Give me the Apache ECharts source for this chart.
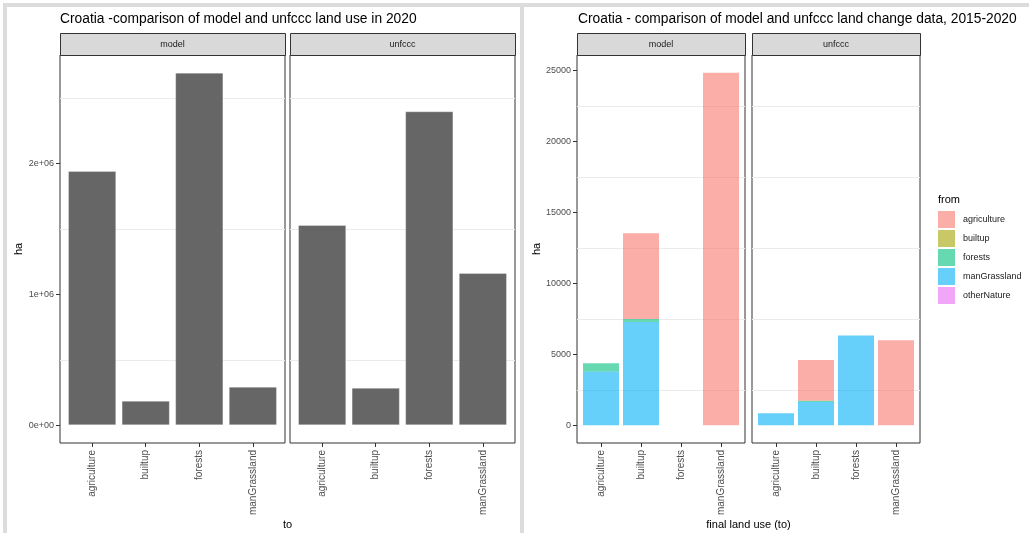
<!DOCTYPE html>
<html>
<head>
<meta charset="utf-8">
<script src="https://cdn.jsdelivr.net/npm/echarts@6/dist/echarts.min.js"></script>
<style>
  html, body { margin: 0; padding: 0; background: #ffffff; }
  #chart { width: 1029px; height: 533px; }
</style>
</head>
<body>
<div id="chart"></div>
<script>
// ---- data ---------------------------------------------------------------
const landUse = ['agriculture', 'builtup', 'forests', 'manGrassland'];
const panelNames = ['model', 'unfccc'];

// land use in 2020, ha
const useModel = [1942000, 188000, 2692000, 295000];
const useUnfccc = [1529000, 287000, 2397000, 1163000];
const useTicks = [0, 1000000, 2000000];
const useTickLabels = ['0e+00', '1e+06', '2e+06'];
const useMinor = [500000, 1500000, 2500000];

// land change 2015-2020, ha, split by the previous land use ("from")
const fromClasses = ['agriculture', 'builtup', 'forests', 'manGrassland', 'otherNature'];
const fromColors = ['#F8766D', '#A3A500', '#00BF7D', '#00B0F6', '#E76BF3'];

const chgModelAgriculture  = [0, 6035, 0, 24850];
const chgModelBuiltup      = [0, 0, 0, 0];
const chgModelForests      = [590, 210, 0, 0];
const chgModelManGrassland = [3790, 7290, 0, 0];
const chgModelOtherNature  = [0, 0, 0, 0];

const chgUnfcccAgriculture  = [0, 2880, 0, 6000];
const chgUnfcccBuiltup      = [0, 0, 0, 0];
const chgUnfcccForests      = [0, 80, 0, 0];
const chgUnfcccManGrassland = [860, 1650, 6325, 0];
const chgUnfcccOtherNature  = [0, 0, 0, 0];

const changeTicks = [0, 5000, 10000, 15000, 20000, 25000];
const changeMinor = [2500, 7500, 12500, 17500, 22500];

// ---- layout -------------------------------------------------------------
const FONT = "'Liberation Sans', Arial, sans-serif";
const PANEL_TOP = 55, PANEL_BOTTOM = 443, STRIP_TOP = 33;
const PANEL_H = PANEL_BOTTOM - PANEL_TOP;
// discrete x scale spans 0.4 .. 4.6 (0.6 units of padding around the categories)
const leftPanels  = [{ x: 60, w: 225 }, { x: 290, w: 225 }];
const rightPanels = [{ x: 577, w: 168 }, { x: 752, w: 168 }];

function paddedRange(maxVal) {
  return { min: -0.05 * maxVal, max: 1.05 * maxVal };
}
const useRange = paddedRange(Math.max(...useModel, ...useUnfccc));
const modelStacks = landUse.map((_, i) => chgModelAgriculture[i] + chgModelBuiltup[i] + chgModelForests[i] + chgModelManGrassland[i] + chgModelOtherNature[i]);
const unfcccStacks = landUse.map((_, i) => chgUnfcccAgriculture[i] + chgUnfcccBuiltup[i] + chgUnfcccForests[i] + chgUnfcccManGrassland[i] + chgUnfcccOtherNature[i]);
const changeRange = paddedRange(Math.max(...modelStacks, ...unfcccStacks));

const grid = [], xAxis = [], yAxis = [], series = [], graphic = [];

function addPanel(p, range, ticks, tickLabels, showY, yName, yNameGap, minor) {
  const unit = p.w / 4.2;
  const outer = grid.length;
  grid.push({ left: p.x, top: PANEL_TOP, width: p.w, height: PANEL_H,
    show: true, borderColor: '#333333', borderWidth: 1, backgroundColor: 'transparent', containLabel: false });
  xAxis.push({ gridIndex: outer, type: 'value', min: 0, max: 1, show: false });
  yAxis.push({
    gridIndex: outer, type: 'value', min: range.min, max: range.max, show: showY,
    name: showY ? yName : '', nameLocation: 'middle', nameRotate: 90, nameGap: yNameGap,
    nameTextStyle: { fontFamily: FONT, fontSize: 11, color: '#000000' },
    axisLine: { show: false, onZero: false },
    splitLine: { show: false },
    axisTick: { show: true, customValues: ticks, length: 4, lineStyle: { color: '#333333', width: 1 } },
    axisLabel: { customValues: ticks, margin: 6, fontFamily: FONT, fontSize: 9, color: '#4d4d4d',
      formatter: v => tickLabels[ticks.indexOf(v)] }
  });
  // light horizontal grid lines across the whole panel
  series.push({
    type: 'custom', xAxisIndex: outer, yAxisIndex: outer, silent: true, z: 0,
    data: minor.map(v => [0, v]),
    renderItem: (params, api) => {
      const y = api.value(1);
      const a = api.coord([0, y]), b = api.coord([1, y]);
      const yy = Math.round(a[1]) + 0.5;
      return { type: 'line', shape: { x1: a[0], y1: yy, x2: b[0], y2: yy },
        style: { stroke: '#ebebeb', lineWidth: 1 } };
    }
  });
  const inner = grid.length;
  grid.push({ left: p.x + 0.1 * unit, top: PANEL_TOP, width: 4 * unit, height: PANEL_H, containLabel: false });
  xAxis.push({
    gridIndex: inner, type: 'category', data: landUse, boundaryGap: true, position: 'bottom',
    axisLine: { show: false, onZero: false },
    axisTick: { show: true, alignWithLabel: true, length: 4, lineStyle: { color: '#333333', width: 1 } },
    axisLabel: { rotate: 90, margin: 7, fontFamily: FONT, fontSize: 10, color: '#4d4d4d', interval: 0 }
  });
  yAxis.push({ gridIndex: inner, type: 'value', min: range.min, max: range.max, show: false });
  return inner;
}

// ---- left chart: land use in 2020 ---------------------------------------
[useModel, useUnfccc].forEach((vals, k) => {
  const g = addPanel(leftPanels[k], useRange, useTicks, useTickLabels, k === 0, 'ha', 36, useMinor);
  series.push({
    type: 'bar', name: 'land use ' + panelNames[k], xAxisIndex: g, yAxisIndex: g, z: 2,
    barWidth: '90%', data: vals,
    itemStyle: { color: '#666666', borderColor: 'rgba(255,255,255,0.3)', borderWidth: 1 },
    emphasis: { disabled: true }
  });
});

// ---- right chart: land change 2015-2020 ---------------------------------
const changeSets = [
  [chgModelAgriculture, chgModelBuiltup, chgModelForests, chgModelManGrassland, chgModelOtherNature],
  [chgUnfcccAgriculture, chgUnfcccBuiltup, chgUnfcccForests, chgUnfcccManGrassland, chgUnfcccOtherNature]
];
changeSets.forEach((set, k) => {
  const g = addPanel(rightPanels[k], changeRange, changeTicks, changeTicks.map(String), k === 0, 'ha', 35, changeMinor);
  // first class in the list ends up on top of the stack
  for (let c = fromClasses.length - 1; c >= 0; c--) {
    series.push({
      type: 'bar', name: fromClasses[c], xAxisIndex: g, yAxisIndex: g, z: 2,
      stack: 'change' + k, barWidth: '90%', data: set[c],
      itemStyle: { color: fromColors[c], opacity: 0.6 },
      emphasis: { disabled: true }
    });
  }
});

// ---- frame, titles, facet strips, axis titles ---------------------------
const frameColor = '#dcdcdc';
graphic.push(
  { type: 'rect', shape: { x: 3, y: 3, width: 1026, height: 4 }, style: { fill: frameColor }, silent: true },
  { type: 'rect', shape: { x: 3, y: 3, width: 4, height: 530 }, style: { fill: frameColor }, silent: true },
  { type: 'rect', shape: { x: 520, y: 3, width: 4, height: 530 }, style: { fill: frameColor }, silent: true }
);

function addText(x, y, text, size, align) {
  graphic.push({ type: 'text', x: x, y: y, silent: true,
    style: { text: text, fontFamily: FONT, fontSize: size, fill: '#000000', align: align, verticalAlign: 'top' } });
}
addText(60, 12, 'Croatia -comparison of model and unfccc land use in 2020', 13.8, 'left');
addText(578, 12, 'Croatia - comparison of model and unfccc land change data, 2015-2020', 13.8, 'left');

[...leftPanels, ...rightPanels].forEach((p, i) => {
  graphic.push({ type: 'rect', silent: true,
    shape: { x: p.x + 0.5, y: STRIP_TOP + 0.5, width: p.w, height: PANEL_TOP - STRIP_TOP },
    style: { fill: '#d9d9d9', stroke: '#333333', lineWidth: 1 } });
  graphic.push({ type: 'text', silent: true, x: p.x + p.w / 2, y: (STRIP_TOP + PANEL_TOP) / 2 + 1,
    style: { text: panelNames[i % 2], fontFamily: FONT, fontSize: 9, fill: '#1a1a1a', align: 'center', verticalAlign: 'middle' } });
});

addText((leftPanels[0].x + leftPanels[1].x + leftPanels[1].w) / 2, 519, 'to', 11, 'center');
addText((rightPanels[0].x + rightPanels[1].x + rightPanels[1].w) / 2, 519, 'final land use (to)', 11, 'center');
addText(938, 194, 'from', 11, 'left');

// ---- chart --------------------------------------------------------------
const chart = echarts.init(document.getElementById('chart'), null, { renderer: 'canvas' });
chart.setOption({
  animation: false,
  backgroundColor: '#ffffff',
  textStyle: { fontFamily: FONT },
  grid: grid,
  xAxis: xAxis,
  yAxis: yAxis,
  series: series,
  graphic: graphic,
  legend: {
    data: fromClasses, orient: 'vertical', left: 938, top: 211, padding: 0,
    itemWidth: 17, itemHeight: 17, itemGap: 2, icon: 'rect', selectedMode: false,
    textStyle: { fontFamily: FONT, fontSize: 9, color: '#1a1a1a', padding: [0, 0, 0, 3] }
  }
});
</script>
</body>
</html>
